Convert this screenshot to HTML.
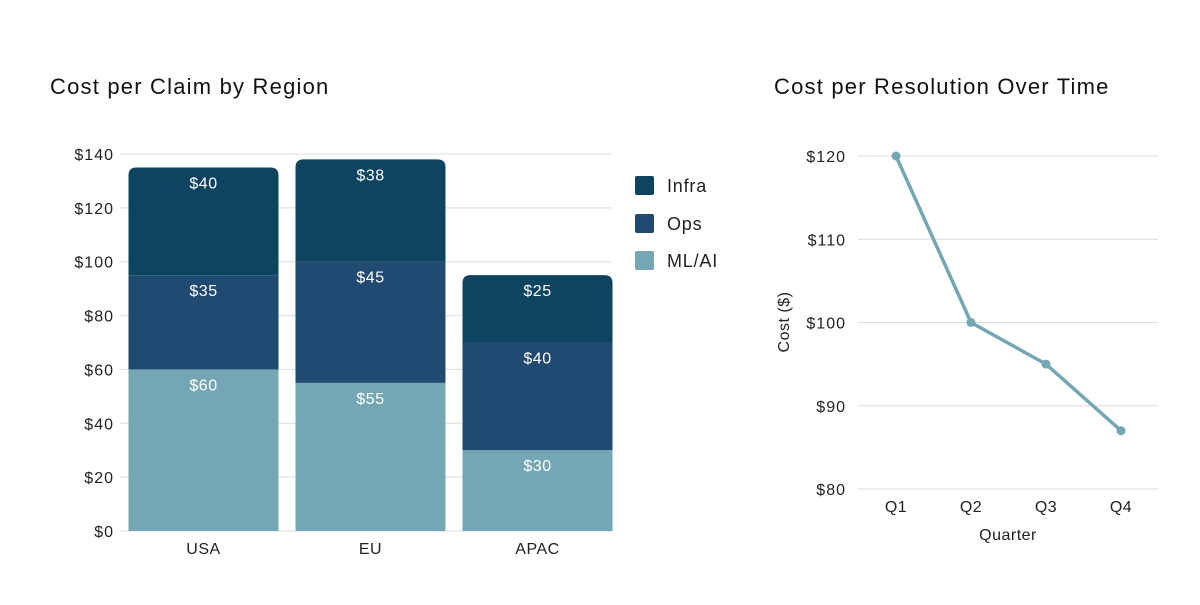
<!DOCTYPE html>
<html><head><meta charset="utf-8"><style>
body{margin:0;background:#fff;font-family:"Liberation Sans",sans-serif;}
svg text{font-family:"Liberation Sans",sans-serif;}
</style></head><body>
<svg id="c" width="1200" height="600">
<rect width="1200" height="600" fill="#fff"/>
<text x="50" y="94" font-size="22" letter-spacing="1.2" fill="#111">Cost per Claim by Region</text>
<text x="774" y="94" font-size="22" letter-spacing="1.2" fill="#111">Cost per Resolution Over Time</text>
<g id="left"></g><g id="right"></g>
</svg>
<script>
const regions=["USA","EU","APAC"];
const mlai=[60,55,30];
const ops=[35,45,40];
const infra=[40,38,25];
const yTicks=[0,20,40,60,80,100,120,140];
const quarters=["Q1","Q2","Q3","Q4"];
const costs=[120,100,95,87];
const rTicks=[80,90,100,110,120];

const NS="http://www.w3.org/2000/svg";
function mk(p,t,a){const e=document.createElementNS(NS,t);for(const k in a)e.setAttribute(k,a[k]);p.appendChild(e);return e;}
const L=document.getElementById('left'),R=document.getElementById('right');
const y0=531,y1=154,x0=120,x1=621;
const ys=v=>y0-(v/140)*(y0-y1);
const band=(x1-x0)/regions.length,bw=150;
const bx=i=>x0+band*i+(band-bw)/2;
yTicks.forEach(v=>{
 const g=mk(L,'line',{x1:x0,x2:612,y1:ys(v),y2:ys(v),stroke:'#ddd','stroke-width':1});
 
 
 const t=mk(L,'text',{x:114,y:ys(v)+6,'text-anchor':'end','font-size':16,'letter-spacing':1,fill:'#222'});t.textContent='$'+v;
 
 
});
const series=[[mlai,'#74a6b3','mlai'],[ops,'#214a70','ops'],[infra,'#0d4460','infra']];
regions.forEach((r,i)=>{
 let base=0;
 series.forEach(([arr,col,nm],si)=>{
  const v=arr[i],top=ys(base+v),bot=ys(base);
  let el;
  if(si===2){
   const x=bx(i),rr=8;
   el=mk(L,'path',{d:`M${x},${bot}V${top+rr}Q${x},${top} ${x+rr},${top}H${x+bw-rr}Q${x+bw},${top} ${x+bw},${top+rr}V${bot}Z`,fill:col});
  } else el=mk(L,'rect',{x:bx(i),y:top,width:bw,height:bot-top,fill:col});
  
  
  const t=mk(L,'text',{x:bx(i)+bw/2,y:top+21,'text-anchor':'middle','font-size':16,'letter-spacing':0.5,fill:'#fff'});t.textContent='$'+v;
  
  
  base+=v;
 });
 const t=mk(L,'text',{x:bx(i)+bw/2,y:554,'text-anchor':'middle','font-size':16,'letter-spacing':0.5,fill:'#222'});t.textContent=r;
 
 
});
[['Infra','#0d4460',176],['Ops','#214a70',214],['ML/AI','#74a6b3',251]].forEach(([n,c,y])=>{
 const s=mk(L,'rect',{x:635,y:y,width:19,height:19,fill:c,rx:2});
 
 
 const t=mk(L,'text',{x:667,y:y+16,'font-size':18,'letter-spacing':0.8,fill:'#222'});t.textContent=n;
 
 
});
const ry0=489,ry1=156;
const rys=v=>ry0-(v-80)/40*(ry0-ry1);
const rxs=i=>896+75*i;
rTicks.forEach(v=>{
 const g=mk(R,'line',{x1:858,x2:1158,y1:rys(v),y2:rys(v),stroke:'#ddd','stroke-width':1});
 
 
 const t=mk(R,'text',{x:846,y:rys(v)+6,'text-anchor':'end','font-size':16,'letter-spacing':1,fill:'#222'});t.textContent='$'+v;
 
 
});
quarters.forEach((q,i)=>{
 const t=mk(R,'text',{x:rxs(i),y:512,'text-anchor':'middle','font-size':16,'letter-spacing':0.5,fill:'#222'});t.textContent=q;
 
 
});
const ln=mk(R,'polyline',{points:costs.map((v,i)=>rxs(i)+','+rys(v)).join(' '),fill:'none',stroke:'#74a6b3','stroke-width':3.5,'stroke-linejoin':'round'});


costs.forEach((v,i)=>{
 const c=mk(R,'circle',{cx:rxs(i),cy:rys(v),r:4.5,fill:'#74a6b3'});
 
 
});
let t=mk(R,'text',{x:1008,y:540,'text-anchor':'middle','font-size':16,'letter-spacing':0.5,fill:'#222'});t.textContent='Quarter';


t=mk(R,'text',{x:0,y:0,'text-anchor':'middle','font-size':16,'letter-spacing':0.5,fill:'#222',transform:'translate(789,322) rotate(-90)'});t.textContent='Cost ($)';


</script>
</body></html>
